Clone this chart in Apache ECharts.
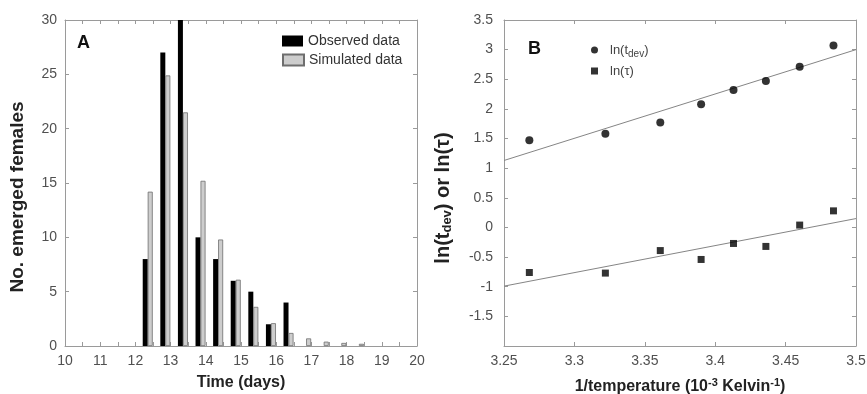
<!DOCTYPE html>
<html>
<head>
<meta charset="utf-8">
<script src="https://cdn.jsdelivr.net/npm/echarts@6/dist/echarts.min.js"></script>
<style>
html,body{margin:0;padding:0;background:#fff;}
#chart{width:867px;height:394px;}
</style>
</head>
<body>
<div id="chart"></div>
<script>
// ---------- Panel A data ----------
const binCenters = [12.35, 12.85, 13.35, 13.85, 14.35, 14.85, 15.35, 15.85, 16.35, 16.85, 17.35, 17.85, 18.35];
const observed   = [8, 27, 30, 10, 8, 6, 5, 2, 4, 0, 0, 0, 0];
const simulated  = [14.2, 24.9, 21.5, 15.2, 9.8, 6.1, 3.6, 2.1, 1.2, 0.7, 0.4, 0.28, 0.2];
const legendA    = ['Observed data', 'Simulated data'];

// ---------- Panel B data ----------
const invTemp = [3.268, 3.322, 3.361, 3.390, 3.413, 3.436, 3.460, 3.484];
const lnTdev  = [1.47, 1.58, 1.77, 2.08, 2.32, 2.47, 2.71, 3.07];
const lnTau   = [-0.76, -0.77, -0.39, -0.54, -0.27, -0.32, 0.04, 0.28];
const fitX    = [3.25, 3.5];
const fitTdev = [1.13, 3.0];
const fitTau  = [-0.99, 0.15];
const legendB = ['ln(t_dev)', 'ln(τ)'];

const FONT = '"Liberation Sans", Arial, Helvetica, sans-serif';
const FRAME = '#9a9a9a';
const LABEL = '#505050';

function frameAxis(extra) {
  return Object.assign({
    axisLine: { show: true, onZero: false, lineStyle: { color: FRAME, width: 1 } },
    axisTick: { show: true, inside: true, length: 4, lineStyle: { color: FRAME } },
    splitLine: { show: false },
    nameMoveOverlap: false
  }, extra);
}

const chart = echarts.init(document.getElementById('chart'), null, { renderer: 'canvas' });

const option = {
  animation: false,
  backgroundColor: '#fff',
  textStyle: { fontFamily: FONT },
  title: [
    { text: 'A', left: 77, top: 34, padding: 0, textStyle: { fontSize: 18, fontWeight: 'bold', color: '#111', fontFamily: FONT } },
    { text: 'B', left: 528, top: 40, padding: 0, textStyle: { fontSize: 18, fontWeight: 'bold', color: '#111', fontFamily: FONT } }
  ],
  grid: [
    { left: 65, top: 20, width: 352, height: 326, outerBoundsMode: 'none', containLabel: false },
    { left: 504, top: 20, width: 352, height: 326, outerBoundsMode: 'none', containLabel: false }
  ],
  legend: [
    { data: [{ name: legendA[0], icon: 'rect' }], left: 282, top: 34, padding: 0, itemWidth: 21, itemHeight: 11, selectedMode: false,
      textStyle: { fontSize: 14, lineHeight: 14, color: '#333', fontFamily: FONT } },
    { data: [{ name: legendA[1], icon: 'rect' }], left: 282, top: 53, padding: 0, itemWidth: 21, itemHeight: 11, selectedMode: false,
      textStyle: { fontSize: 14, lineHeight: 14, color: '#333', fontFamily: FONT } },
    { data: [{ name: legendB[0], icon: 'circle' }], left: 591, top: 41, padding: 0, itemWidth: 7, itemHeight: 7, selectedMode: false,
      formatter: () => 'ln(t{sub|dev})',
      textStyle: { fontSize: 13, lineHeight: 18, color: '#444', fontFamily: FONT, padding: [0, 0, 0, 7],
        rich: { sub: { fontSize: 10, lineHeight: 8, verticalAlign: 'bottom', color: '#444', fontFamily: FONT } } } },
    { data: [{ name: legendB[1], icon: 'rect' }], left: 591, top: 62, padding: 0, itemWidth: 7, itemHeight: 7, selectedMode: false,
      textStyle: { fontSize: 13, lineHeight: 18, color: '#444', fontFamily: FONT, padding: [0, 0, 0, 7] } }
  ],
  xAxis: [
    frameAxis({ type: 'value', gridIndex: 0, position: 'bottom', min: 10, max: 20, interval: 0.5,
      name: 'Time (days)', nameLocation: 'middle', nameGap: 28,
      nameTextStyle: { fontSize: 16, fontWeight: 'bold', color: '#222', lineHeight: 18, fontFamily: FONT },
      axisLabel: { show: true, margin: 8, fontSize: 14, color: LABEL, fontFamily: FONT,
        formatter: v => (Math.abs(v - Math.round(v)) < 1e-9 ? String(Math.round(v)) : '') } }),
    frameAxis({ type: 'value', gridIndex: 0, position: 'top', min: 10, max: 20, interval: 0.5, axisLabel: { show: false } }),
    frameAxis({ type: 'value', gridIndex: 1, position: 'bottom', min: 3.25, max: 3.5, interval: 0.05,
      name: '1/temperature (10{sup|-3} Kelvin{sup|-1})', nameLocation: 'middle', nameGap: 31,
      nameTextStyle: { fontSize: 16, fontWeight: 'bold', color: '#222', lineHeight: 20, fontFamily: FONT,
        rich: { sup: { fontSize: 11, fontWeight: 'bold', lineHeight: 10, verticalAlign: 'top', color: '#222', fontFamily: FONT } } },
      axisLabel: { show: true, margin: 8, fontSize: 14, color: LABEL, fontFamily: FONT } }),
    frameAxis({ type: 'value', gridIndex: 1, position: 'top', min: 3.25, max: 3.5, interval: 0.05, axisLabel: { show: false } })
  ],
  yAxis: [
    frameAxis({ type: 'value', gridIndex: 0, position: 'left', min: 0, max: 30, interval: 5,
      name: 'No. emerged females', nameLocation: 'middle', nameGap: 37, nameRotate: 90,
      nameTextStyle: { fontSize: 19, fontWeight: 'bold', color: '#222', lineHeight: 20, fontFamily: FONT, padding: [0, 28, 0, 0] },
      axisLabel: { show: true, margin: 8, fontSize: 14, color: LABEL, fontFamily: FONT } }),
    frameAxis({ type: 'value', gridIndex: 0, position: 'right', min: 0, max: 30, interval: 5, axisLabel: { show: false } }),
    frameAxis({ type: 'value', gridIndex: 1, position: 'left', min: -2, max: 3.5, interval: 0.5,
      name: 'ln(t{sub|dev}) or ln(τ)', nameLocation: 'middle', nameGap: 50, nameRotate: 90,
      nameTextStyle: { fontSize: 20, fontWeight: 'bold', color: '#222', lineHeight: 22, fontFamily: FONT, padding: [0, 30, 0, 0],
        rich: { sub: { fontSize: 13, fontWeight: 'bold', lineHeight: 10, verticalAlign: 'bottom', color: '#222', fontFamily: FONT } } },
      axisLabel: { show: true, margin: 11, fontSize: 14, color: LABEL, fontFamily: FONT,
        formatter: v => (Math.abs(v + 2) < 1e-9 ? '' : String(v)) } }),
    frameAxis({ type: 'value', gridIndex: 1, position: 'right', min: -2, max: 3.5, interval: 0.5, axisLabel: { show: false } })
  ],
  series: [
    { name: legendA[0], type: 'bar', xAxisIndex: 0, yAxisIndex: 0, barWidth: 5, barGap: '0%',
      itemStyle: { color: '#000' },
      data: binCenters.map((x, i) => [x, observed[i]]) },
    { name: legendA[1], type: 'bar', xAxisIndex: 0, yAxisIndex: 0, barWidth: 5, barGap: '0%',
      itemStyle: { color: '#cdcdcd', borderColor: '#6e6e6e', borderWidth: 0.8 },
      data: binCenters.map((x, i) => [x, simulated[i]]) },
    { name: 'fitTdev', type: 'line', xAxisIndex: 2, yAxisIndex: 2, symbol: 'none', silent: true,
      lineStyle: { color: '#858585', width: 1 }, z: 1,
      data: fitX.map((x, i) => [x, fitTdev[i]]) },
    { name: 'fitTau', type: 'line', xAxisIndex: 2, yAxisIndex: 2, symbol: 'none', silent: true,
      lineStyle: { color: '#858585', width: 1 }, z: 1,
      data: fitX.map((x, i) => [x, fitTau[i]]) },
    { name: legendB[0], type: 'scatter', xAxisIndex: 2, yAxisIndex: 2, symbol: 'circle', symbolSize: 8, z: 3,
      itemStyle: { color: '#000' },
      data: invTemp.map((x, i) => [x, lnTdev[i]]) },
    { name: legendB[1], type: 'scatter', xAxisIndex: 2, yAxisIndex: 2, symbol: 'rect', symbolSize: 7, z: 3,
      itemStyle: { color: '#000' },
      data: invTemp.map((x, i) => [x, lnTau[i]]) }
  ]
};

chart.setOption(option);
</script>
</body>
</html>
